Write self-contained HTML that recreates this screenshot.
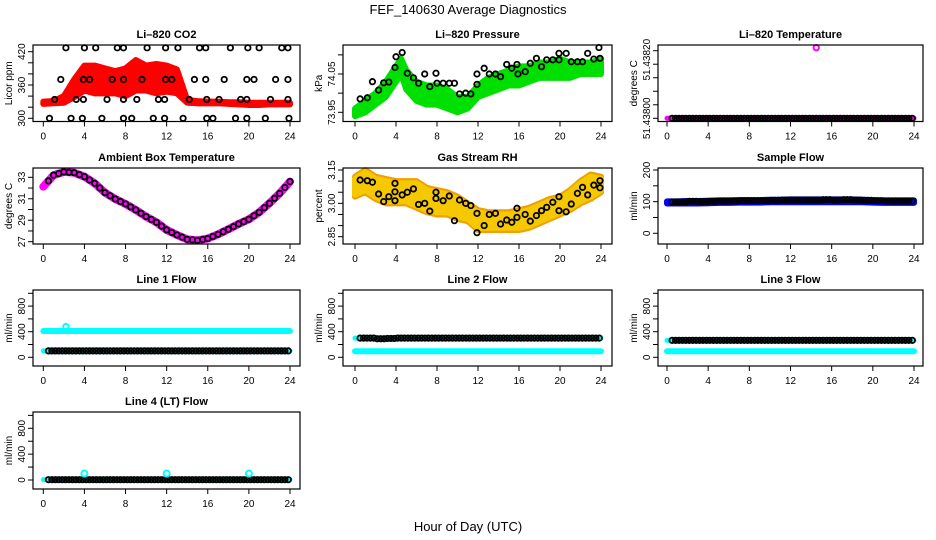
<!DOCTYPE html>
<html><head><meta charset="utf-8"><style>
body{margin:0;background:#fff}
svg{display:block;font-family:"Liberation Sans",sans-serif}
</style></head><body>
<svg id="chart" width="936" height="540" viewBox="0 0 936 540" xmlns="http://www.w3.org/2000/svg">
<rect width="936" height="540" fill="#fff"/>
<text x="468" y="14" font-size="13" text-anchor="middle">FEF_140630  Average Diagnostics</text>
<text x="468" y="531" font-size="13" text-anchor="middle">Hour of Day (UTC)</text>
</svg>
<script>
// ---- data ----
const xTicks = [0,4,8,12,16,20,24];
const hours = [0,1,2,3,4,5,6,7,8,9,10,11,12,13,14,15,16,17,18,19,20,21,22,23,24];

// CO2
const co2Lo = [326,327,328,338,350,345,345,345,340,350,350,345,348,345,328,327,327,327,326,325,324,324,325,325,325];
const co2Hi = [330,331,340,370,395,395,390,385,390,405,395,398,395,388,333,331,330,330,329,329,328,328,328,328,328];
const co2BlackH = [2.2,4.0,5.1,7.2,7.8,10.1,11.9,13.1,15.2,15.8,18.2,19.9,21.0,23.2,23.8,
  1.7,3.9,4.5,6.7,7.8,9.6,11.9,12.5,14.7,15.8,17.6,19.8,20.5,22.6,23.8,
  1.1,3.2,3.9,6.2,7.8,9.1,11.2,11.8,14.2,15.9,17.1,19.2,19.8,22.1,23.8,
  0.6,2.7,3.8,5.7,7.8,8.6,10.7,11.8,13.6,15.9,16.5,18.7,19.8,21.6,23.9];
const co2BlackV = [427,427,427,427,427,427,427,427,427,427,427,427,427,427,427,
  370,370,370,370,370,370,370,370,370,370,370,370,370,370,370,
  334,334,334,334,334,334,334,334,334,334,334,334,334,334,334,
  300,300,300,300,300,300,300,300,300,300,300,300,300,300,300];

// Pressure
const presHours = [0,1,2,3,4,4.5,5,6,7,8,9,10,11,12,13,14,15,16,17,18,19,20,21,22,23,24];
const presLo = [73.94,73.95,73.97,73.99,74.03,74.05,74.01,73.98,73.97,73.97,73.96,73.95,73.96,73.99,74.00,74.01,74.02,74.02,74.03,74.04,74.04,74.04,74.04,74.05,74.05,74.05];
const presHi = [73.96,73.98,74.00,74.03,74.07,74.09,74.06,74.03,74.02,74.02,74.01,73.99,73.99,74.02,74.04,74.05,74.06,74.07,74.07,74.08,74.08,74.09,74.08,74.08,74.08,74.09];
const presBlackH = [0.5,1.2,1.7,2.3,2.8,3.3,3.9,4.0,4.6,5.1,5.7,6.2,6.8,7.3,7.9,8.0,8.6,9.2,9.7,10.2,10.8,11.3,11.9,11.9,12.6,13.1,13.7,14.2,14.8,15.3,15.8,15.9,16.6,17.1,17.7,18.2,18.7,19.3,19.9,19.9,20.6,21.1,21.7,22.2,22.7,23.3,23.8,23.9];
const presBlackV = [73.985,73.988,74.03,74.008,74.027,74.029,74.067,74.095,74.106,74.052,74.04,74.026,74.05,74.017,74.052,74.026,74.026,74.026,74.026,73.998,74.0,73.998,74.05,74.023,74.065,74.05,74.05,74.043,74.075,74.065,74.075,74.05,74.056,74.078,74.091,74.069,74.087,74.087,74.104,74.087,74.104,74.082,74.082,74.082,74.104,74.089,74.119,74.091];

// Li-820 temperature
const tempLineV = [51.438,51.438,51.438,51.438,51.438,51.438,51.438,51.438,51.438,51.438,51.438,51.438,51.438,51.438,51.438,51.438,51.438,51.438,51.438,51.438,51.438,51.438,51.438,51.438,51.438];
const tempOutlierH = [14.5];
const tempOutlierV = [51.438209];

// Ambient box temperature
const ambV = [32.13,33.2,33.5,33.43,33.06,32.44,31.57,30.98,30.52,29.96,29.34,28.81,28.1,27.63,27.22,27.13,27.29,27.69,28.16,28.65,29.09,29.74,30.58,31.51,32.6];

// Gas stream RH
const rhLo = [3.03,3.05,3.02,3.00,3.00,3.00,2.98,2.96,2.95,2.95,2.93,2.92,2.88,2.88,2.88,2.88,2.88,2.89,2.91,2.93,2.95,2.97,3.00,3.02,3.05];
const rhHi = [3.12,3.15,3.12,3.11,3.10,3.10,3.10,3.07,3.06,3.05,3.03,3.00,2.97,2.96,2.96,2.96,2.97,2.98,3.00,3.02,3.03,3.06,3.10,3.13,3.12];
const rhBlackH = [0.5,1.2,1.7,2.3,2.8,3.3,3.9,3.9,3.9,4.6,5.1,5.7,6.2,6.8,7.3,7.9,7.9,8.6,9.2,9.7,10.2,10.8,11.3,11.9,11.9,12.6,13.1,13.7,14.2,14.8,15.3,15.8,15.8,16.6,17.1,17.7,18.2,18.7,19.3,19.9,19.9,20.6,21.1,21.7,22.2,22.7,23.3,23.9,23.9];
const rhBlackV = [3.105,3.102,3.095,3.042,3.008,3.03,3.09,3.052,3.012,3.038,3.05,3.065,2.995,3.0,2.965,3.05,3.022,3.012,3.033,2.922,3.015,3.0,2.99,2.955,2.868,2.9,2.95,2.955,2.907,2.925,2.915,2.978,2.937,2.95,2.92,2.945,2.967,2.982,3.005,2.967,3.03,2.962,2.997,3.045,3.072,3.038,3.082,3.102,3.07];

// Sample flow
const sampLo = [94,94,94,94,95,96,96,97,97,97,98,98,98,98,98,98,98,98,98,98,97,96,96,96,96];
const sampHi = [101,101,102,102,103,104,104,105,105,105,106,106,107,107,107,107,107,107,107,106,105,104,104,104,104];
const sampBlack = [99,99,101,100,101,102,102,103,103,103,104,105,105,105,105,106,105,106,105,104,103,102,102,102,101];

// Line flows (hourly)
const line1Cyan = [410,410,410,410,410,410,410,410,410,410,410,410,410,410,410,410,410,410,410,410,410,410,410,410,410];
const line1Black = [100,100,100,100,100,100,100,100,100,100,100,100,100,100,100,100,100,100,100,100,100,100,100,100,100];
const line2Cyan = [95,95,95,95,95,95,95,95,95,95,95,95,95,95,95,95,95,95,95,95,95,95,95,95,95];
const line2Black = [300,300,290,295,300,300,300,300,300,300,300,300,300,300,300,300,300,300,300,300,300,300,300,300,300];
const line3Cyan = [95,95,95,95,95,95,95,95,95,95,95,95,95,95,95,95,95,95,95,95,95,95,95,95,95];
const line3Black = [265,265,265,265,265,265,265,265,265,265,265,265,265,265,265,265,265,265,265,265,265,265,265,265,265];
const line4Black = [5,5,5,5,5,5,5,5,5,5,5,5,5,5,5,5,5,5,5,5,5,5,5,5,5];
const line4SpikeH = [4,12,20];
const line4SpikeV = [100,100,100];

// ---- drawing ----
const NS = "http://www.w3.org/2000/svg";
const svg = document.getElementById('chart');
function mk(tag, attrs, parent) {
  const e = document.createElementNS(NS, tag);
  for (const k in attrs) e.setAttribute(k, attrs[k]);
  (parent || svg).appendChild(e);
  return e;
}
const cols = [{L:33,R:300,x0:43.3,x24:290},{L:343,R:612,x0:355,x24:601},{L:658,R:923,x0:667,x24:914}];
const rows = [{T:45,B:121.5},{T:168,B:244},{T:290,B:366},{T:412,B:489}];

function panel(name, c, r, title, ylab, v0, p0, v1, p1, ticks, labels, labOff) {
  const C = cols[c], R = rows[r];
  const g = mk('g', {});
  
  
  const sx = h => C.x0 + h / 24 * (C.x24 - C.x0);
  const sy = v => p0 + (v - v0) / (v1 - v0) * (p1 - p0);
  const t = mk('text', {x:(C.L+C.R)/2, y:R.T-7, 'font-size':11, 'font-weight':'bold', 'text-anchor':'middle'}, g);
  t.textContent = title;
  
  
  const yl = mk('text', {x:0, y:0, 'font-size':10, 'text-anchor':'middle', transform:`translate(${C.L-21},${(R.T+R.B)/2}) rotate(-90)`}, g);
  yl.textContent = ylab;
  
  
  const data = mk('g', {}, g);
  const box = mk('rect', {x:C.L, y:R.T, width:C.R-C.L, height:R.B-R.T, fill:'none', stroke:'#000', 'stroke-width':1.2}, g);
  
  
  mk('line', {x1:sx(0), x2:sx(24), y1:R.B, y2:R.B, stroke:'#000'}, g);
  xTicks.forEach(h => {
    mk('line', {x1:sx(h), x2:sx(h), y1:R.B, y2:R.B+5, stroke:'#000'}, g);
    const tl = mk('text', {x:sx(h), y:R.B+18, 'font-size':10, 'text-anchor':'middle'}, g);
    tl.textContent = h;
    
    
  });
  ticks.forEach(v => mk('line', {x1:C.L-5, x2:C.L, y1:sy(v), y2:sy(v), stroke:'#000'}, g));
  labels.forEach((lb, i) => {
    const v = parseFloat(lb);
    const yy = sy(v) + (labOff ? labOff[i] : 0);
    const tl = mk('text', {x:0, y:0, 'font-size':10, 'text-anchor':'middle', transform:`translate(${C.L-8},${yy}) rotate(-90)`}, g);
    tl.textContent = lb;
    
    
  });
  return {sx, sy, g:data};
}
function band(P, hs, lo, hi, color, nm) {
  const pts = hs.map((h,i)=>P.sx(h)+','+P.sy(hi[i])).concat(hs.map((h,i)=>P.sx(h)+','+P.sy(lo[i])).reverse());
  const e = mk('polygon', {points:pts.join(' '), fill:color, stroke:color, 'stroke-width':6, 'stroke-linejoin':'round'}, P.g);
  
  
}
function circ(P, h, v, color, nm, r, sw) {
  const e = mk('circle', {cx:P.sx(h), cy:P.sy(v), r:r||2.7, fill:'none', stroke:color, 'stroke-width':sw||1.8}, P.g);
  
  
}
function stepMarks(P, arr, color, nm) {
  for (let i = 0; i <= 70; i++) {
    const h = 0.5 + i / 3;
    circ(P, h, arr[Math.min(24, Math.floor(h))], color, nm);
  }
}
function flatBand(P, arr, w, color, nm) {
  const pts = hours.map((h,i)=>P.sx(h)+','+P.sy(arr[i]));
  const e = mk('polyline', {points:pts.join(' '), fill:'none', stroke:color, 'stroke-width':w, 'stroke-linecap':'round', 'stroke-linejoin':'round'}, P.g);
  
  
}

// Li-820 CO2
let P = panel('co2', 0, 0, 'Li\u2013820 CO2', 'Licor ppm', 300, 118.3, 420, 51.7, [300,320,340,360,380,400,420], ['300','360','420']);
band(P, hours, co2Lo, co2Hi, '#ff0000', 'co2-band');
co2BlackH.forEach((h,i)=>circ(P, h, co2BlackV[i], '#000', 'co2-point'));

// Pressure
P = panel('pressure', 1, 0, 'Li\u2013820 Pressure', 'kPa', 73.95, 112.3, 74.05, 74, [73.95,74.0,74.05,74.1], ['73.95','74.05']);
band(P, presHours, presLo, presHi, '#00e000', 'pressure-band');
presBlackH.forEach((h,i)=>circ(P, h, presBlackV[i], '#000', 'pressure-point'));

// Li-820 Temperature
P = panel('li820-temp', 2, 0, 'Li\u2013820 Temperature', 'degrees C', 51.438, 118.3, 51.4382, 50.7, [51.438,51.43804,51.43808,51.43812,51.43816,51.4382], ['51.43800','51.43820'], [0, 9]);
flatBand(P, tempLineV, 5, '#ff00ff', 'li820-temp-band');
stepMarks(P, tempLineV, '#000', 'li820-temp-point');
tempOutlierH.forEach((h,i)=>circ(P, h, tempOutlierV[i], '#ff00ff', 'li820-temp-outlier', 2.7, 2));

// Ambient Box Temperature
P = panel('ambient-temp', 0, 1, 'Ambient Box Temperature', 'degrees C', 33, 177.3, 27, 241.7, [27,28,29,30,31,32,33], ['27','29','31','33']);
flatBand(P, ambV, 8, '#ff00ff', 'ambient-temp-band');
hours.forEach((h,i)=>{ if (h>0) circ(P, h, ambV[i], '#000', 'ambient-temp-point'); });
hours.slice(0,24).forEach((h,i)=>circ(P, h+0.5, (ambV[i]+ambV[i+1])/2, '#000', 'ambient-temp-point'));

// Gas Stream RH
P = panel('rh', 1, 1, 'Gas Stream RH', 'percent', 3.15, 170, 2.85, 236.7, [2.85,2.9,2.95,3.0,3.05,3.1,3.15], ['2.85','3.00','3.15']);
band(P, hours, rhLo, rhHi, '#f0a000', 'rh-band-outer');
band(P, hours, rhLo.map(v=>v+0.01), rhHi.map(v=>v-0.01), '#f5c800', 'rh-band-inner');
rhBlackH.forEach((h,i)=>circ(P, h, rhBlackV[i], '#000', 'rh-point'));

// Sample Flow
P = panel('sample-flow', 2, 1, 'Sample Flow', 'ml/min', 0, 233.3, 200, 170, [0,50,100,150,200], ['0','100','200']);
band(P, hours, sampLo, sampHi, '#0000ff', 'sample-flow-band');
stepMarks(P, sampBlack, '#000', 'sample-flow-point');

// Line 1
P = panel('line1', 0, 2, 'Line 1 Flow', 'ml/min', 0, 357.3, 1000, 293.3, [0,200,400,600,800,1000], ['0','400','800']);
flatBand(P, line1Cyan, 6, '#00ffff', 'line1-cyan-band');
flatBand(P, line1Black, 5, '#00ffff', 'line1-low-band');
stepMarks(P, line1Black, '#000', 'line1-point');
circ(P, 2.2, 480, '#00ffff', 'line1-outlier', 2.7, 2);

// Line 2
P = panel('line2', 1, 2, 'Line 2 Flow', 'ml/min', 0, 357.3, 1000, 293.3, [0,200,400,600,800,1000], ['0','400','800']);
flatBand(P, line2Cyan, 6, '#00ffff', 'line2-cyan-band');
flatBand(P, line2Black, 5, '#00ffff', 'line2-high-band');
stepMarks(P, line2Black, '#000', 'line2-point');

// Line 3
P = panel('line3', 2, 2, 'Line 3 Flow', 'ml/min', 0, 357.3, 1000, 293.3, [0,200,400,600,800,1000], ['0','400','800']);
flatBand(P, line3Cyan, 6, '#00ffff', 'line3-cyan-band');
flatBand(P, line3Black, 5, '#00ffff', 'line3-high-band');
stepMarks(P, line3Black, '#000', 'line3-point');

// Line 4
P = panel('line4', 0, 3, 'Line 4 (LT) Flow', 'ml/min', 0, 480, 800, 428.3, [0,200,400,600,800,1000], ['0','400','800']);
flatBand(P, line4Black, 5, '#00ffff', 'line4-cyan-band');
stepMarks(P, line4Black, '#000', 'line4-point');
line4SpikeH.forEach((h,i)=>circ(P, h, line4SpikeV[i], '#00ffff', 'line4-spike', 3, 2));
</script>
</body></html>
